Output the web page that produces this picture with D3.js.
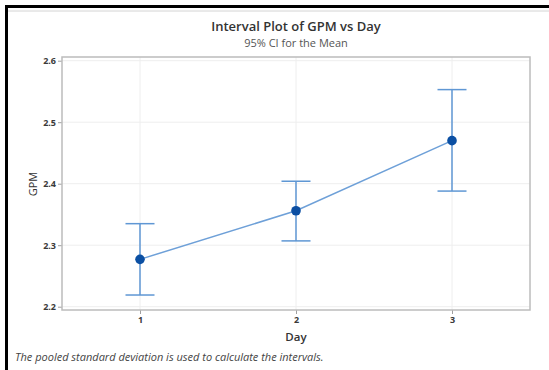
<!DOCTYPE html>
<html>
<head>
<meta charset="utf-8">
<script src="https://cdn.jsdelivr.net/npm/d3@7"></script>
<style>
	body { margin: 0; background: #fff; }
	svg { display: block; font-family: "Open Sans", "Noto Sans", sans-serif; }
</style>
</head>
<body>
<svg id="chart" width="549" height="370"></svg>
<script>
// data
var days = [1, 2, 3];
var means = [2.277, 2.356, 2.470];
var lowerCI = [2.219, 2.307, 2.388];
var upperCI = [2.335, 2.404, 2.553];
var yTicks = [2.2, 2.3, 2.4, 2.5, 2.6];

var svg = d3.select("#chart");

// plot frame edges
var frameL = 62, frameR = 530, frameT = 57, frameB = 310;

var x = d3.scaleLinear().domain([0.5, 3.5]).range([frameL, frameR]);
var y = d3.scaleLinear().domain([2.2, 2.6]).range([306.7, 60.7]);

// outer window border (black at left/top, light grey inner line)
svg.append("rect").attr("x", 5).attr("y", 5).attr("width", 549).attr("height", 3).attr("fill", "#000");
svg.append("rect").attr("x", 5).attr("y", 5).attr("width", 3).attr("height", 370).attr("fill", "#000");
svg.append("line").attr("x1", 8).attr("x2", 549).attr("y1", 11).attr("y2", 11)
	.attr("stroke", "#d4d4d4").attr("stroke-width", 1);

// gridlines
svg.append("g").selectAll("line").data(yTicks).enter().append("line")
	.attr("x1", frameL).attr("x2", frameR)
	.attr("y1", function(d) { return y(d); }).attr("y2", function(d) { return y(d); })
	.attr("stroke", "#eeeeee").attr("stroke-width", 1);
svg.append("g").selectAll("line").data(days).enter().append("line")
	.attr("y1", frameT).attr("y2", frameB)
	.attr("x1", function(d) { return x(d); }).attr("x2", function(d) { return x(d); })
	.attr("stroke", "#eeeeee").attr("stroke-width", 1);

// axes
var yAxis = svg.append("g")
	.attr("transform", "translate(" + frameL + ",0)")
	.call(d3.axisLeft(y).tickValues(yTicks).tickFormat(d3.format(".1f")).tickSize(4).tickPadding(2));
var xAxis = svg.append("g")
	.attr("transform", "translate(0," + frameB + ")")
	.call(d3.axisBottom(x).tickValues(days).tickFormat(d3.format("d")).tickSize(4).tickPadding(3));

[yAxis, xAxis].forEach(function(ax) {
	ax.select(".domain").remove();
	ax.selectAll(".tick line").attr("stroke", "#a0a0a0");
	ax.selectAll(".tick text")
		.attr("fill", "#3a3a3a")
		.style("font-size", "9px")
		.style("font-weight", "bold")
		.style("font-family", "'Open Sans', sans-serif");
});

// frame
svg.append("rect")
	.attr("x", frameL).attr("y", frameT)
	.attr("width", frameR - frameL).attr("height", frameB - frameT)
	.attr("fill", "none").attr("stroke", "#bcbcbc").attr("stroke-width", 1.5);

// connecting line through the means
var line = d3.line()
	.x(function(d, i) { return x(days[i]); })
	.y(function(d) { return y(d); });
svg.append("path").datum(means)
	.attr("d", line)
	.attr("fill", "none").attr("stroke", "#6ea0d8").attr("stroke-width", 1.5);

// interval bars with caps
var capHalf = 14.5;
var bars = svg.append("g").selectAll("g").data(days).enter().append("g");
bars.append("line")
	.attr("x1", function(d) { return x(d); }).attr("x2", function(d) { return x(d); })
	.attr("y1", function(d, i) { return y(upperCI[i]); })
	.attr("y2", function(d, i) { return y(lowerCI[i]); })
	.attr("stroke", "#5f97d4").attr("stroke-width", 1.5);
bars.append("line")
	.attr("x1", function(d) { return x(d) - capHalf; }).attr("x2", function(d) { return x(d) + capHalf; })
	.attr("y1", function(d, i) { return y(upperCI[i]); })
	.attr("y2", function(d, i) { return y(upperCI[i]); })
	.attr("stroke", "#5f97d4").attr("stroke-width", 1.5);
bars.append("line")
	.attr("x1", function(d) { return x(d) - capHalf; }).attr("x2", function(d) { return x(d) + capHalf; })
	.attr("y1", function(d, i) { return y(lowerCI[i]); })
	.attr("y2", function(d, i) { return y(lowerCI[i]); })
	.attr("stroke", "#5f97d4").attr("stroke-width", 1.5);

// mean points
svg.append("g").selectAll("circle").data(means).enter().append("circle")
	.attr("cx", function(d, i) { return x(days[i]); })
	.attr("cy", function(d) { return y(d); })
	.attr("r", 4.8)
	.attr("fill", "#0b4fa3");

// titles
svg.append("text")
	.attr("x", 296).attr("y", 31)
	.attr("text-anchor", "middle")
	.style("font-size", "13px")
	.style("font-weight", "600")
	.attr("fill", "#333")
	.text("Interval Plot of GPM vs Day");
svg.append("text")
	.attr("x", 296).attr("y", 47)
	.attr("text-anchor", "middle")
	.style("font-size", "11px")
	.attr("fill", "#555")
	.text("95% CI for the Mean");

// axis labels
svg.append("text")
	.attr("transform", "translate(37,184) rotate(-90)")
	.attr("text-anchor", "middle")
	.style("font-size", "11px")
	.attr("fill", "#333")
	.text("GPM");
svg.append("text")
	.attr("x", 296).attr("y", 341)
	.attr("text-anchor", "middle")
	.style("font-size", "11.5px")
	.style("font-weight", "600")
	.attr("fill", "#333")
	.text("Day");

// footnote
svg.append("text")
	.attr("x", 15).attr("y", 361)
	.style("font-size", "11px")
	.style("font-style", "italic")
	.attr("fill", "#444")
	.text("The pooled standard deviation is used to calculate the intervals.");
</script>
</body>
</html>
